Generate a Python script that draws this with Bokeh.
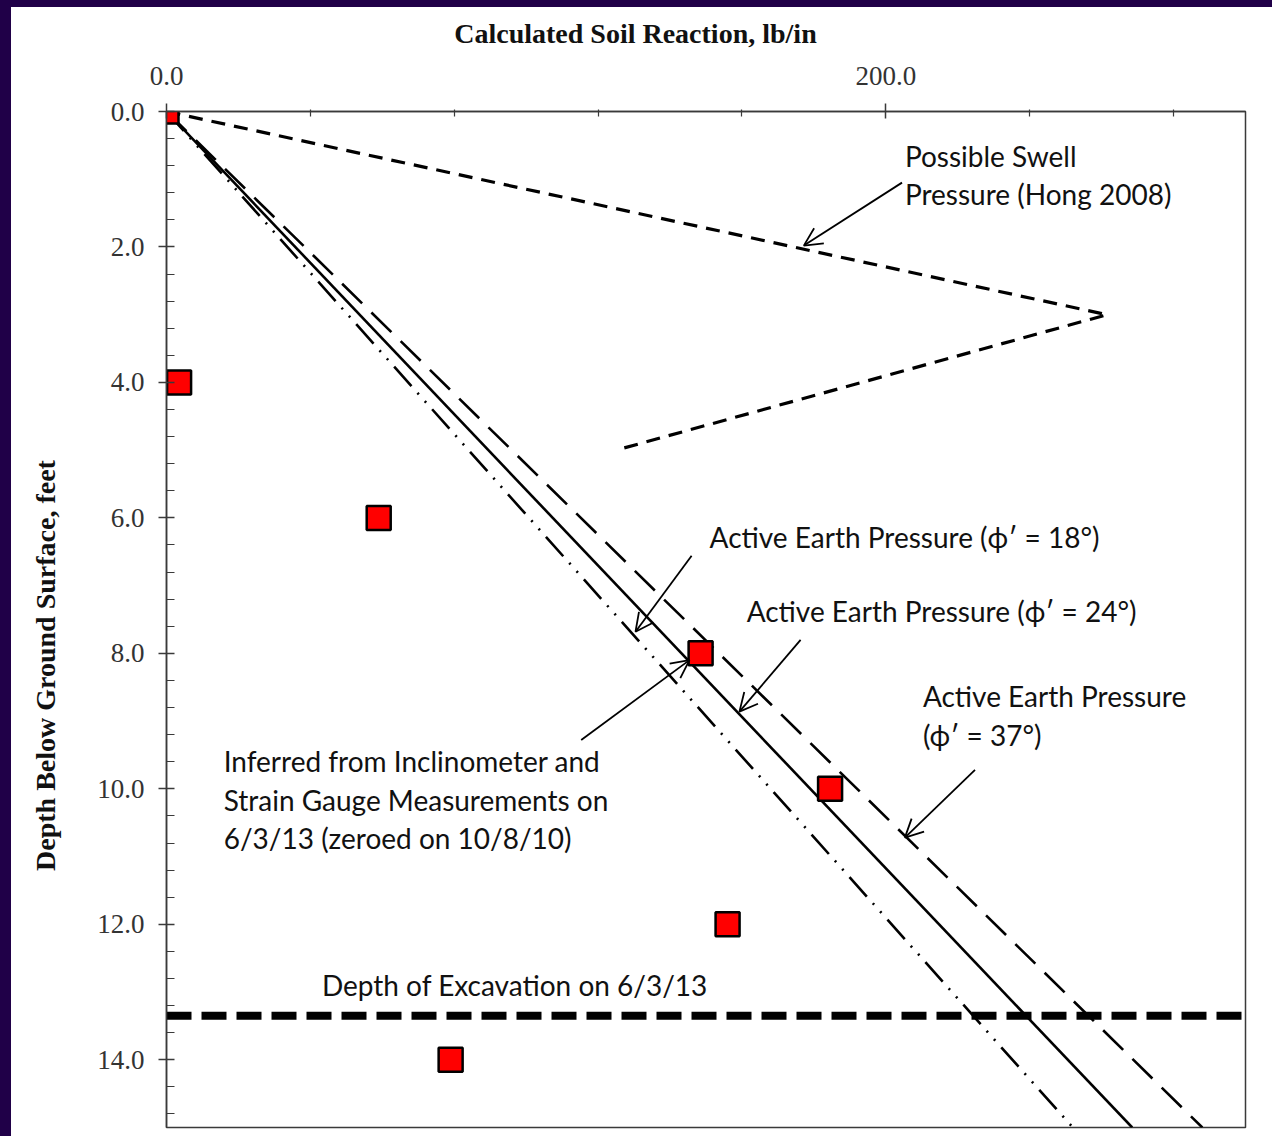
import math
from bokeh.plotting import figure
from bokeh.models import (Range1d, FixedTicker, PrintfTickFormatter, LinearAxis,
                          Label, Arrow, OpenHead, Spacer)
from bokeh.layouts import row, column
from bokeh.embed import file_html
from bokeh.resources import INLINE

# ---------------- data ----------------
measured_depth = [0, 4, 6, 8, 10, 12, 14]
measured_reaction = [0, 3.5, 59, 148.5, 184.5, 156, 79]

active_depth = [0, 15]
active_18 = [0, 252]
active_24 = [0, 268.5]
active_37 = [0, 288]

swell_depth = [0, 3, 5]
swell_reaction = [0, 261.5, 125]

excavation_depth = 13.35

x_major_ticks = [0, 200]
x_minor_ticks = [40, 80, 120, 160, 240, 280]
y_major_ticks = [0, 2, 4, 6, 8, 10, 12, 14]
y_minor_ticks = [0.4, 0.8, 1.2, 1.6, 2.4, 2.8, 3.2, 3.6, 4.4, 4.8, 5.2, 5.6,
                 6.4, 6.8, 7.2, 7.6, 8.4, 8.8, 9.2, 9.6, 10.4, 10.8, 11.2, 11.6,
                 12.4, 12.8, 13.2, 13.6, 14.4, 14.8]

x_title = "Calculated Soil Reaction, lb/in"
y_title = "Depth Below Ground Surface, feet"

# ---------------- styling ----------------
PURPLE = "#200048"
SERIF = "Liberation Serif"
SANS = "Lato"
AX = "#3a3a3a"

YW, XH = 60, 44          # sizes of the title strips
PW, PH = 1261 - YW, 1129 - XH

x_range = Range1d(0, 300)
y_range = Range1d(15, 0)


def blank_fig(w, h, xr):
    f = figure(width=w, height=h, output_backend="svg", toolbar_location=None,
               x_range=xr, y_range=Range1d(h, 0),
               x_axis_location=None, y_axis_location=None, min_border=0,
               background_fill_color="white", border_fill_color="white")
    f.grid.visible = False
    f.outline_line_color = None
    return f


# title strips (the top strip's frame lines up with the main frame -> shares x range)
xfig = blank_fig(PW, XH, x_range)
xfig.add_layout(Label(x=80, y=26, text=x_title, text_font=SERIF, text_font_style="bold",
                      text_font_size="28px", text_color="#111111",
                      text_align="left", text_baseline="middle"))
yfig = blank_fig(YW, 1129, Range1d(0, YW))
yfig.add_layout(Label(x=34, y=658, text=y_title, text_font=SERIF, text_font_style="bold",
                      text_font_size="28px", text_color="#111111", angle=math.pi / 2,
                      text_align="center", text_baseline="middle"))

# ---------------- main figure ----------------
p = figure(width=PW, height=PH, output_backend="svg", toolbar_location=None,
           x_range=x_range, y_range=y_range,
           x_axis_location=None, y_axis_location=None,
           min_border_left=95, min_border_right=27, min_border_top=60, min_border_bottom=9,
           background_fill_color="white", border_fill_color="white")
p.grid.visible = False
p.outline_line_color = AX
p.outline_line_width = 1.5

xaxis = LinearAxis(ticker=FixedTicker(ticks=x_major_ticks, minor_ticks=x_minor_ticks),
                   formatter=PrintfTickFormatter(format="%.1f"))
yaxis = LinearAxis(ticker=FixedTicker(ticks=y_major_ticks, minor_ticks=y_minor_ticks),
                   formatter=PrintfTickFormatter(format="%.1f"))
for ax in (xaxis, yaxis):
    ax.axis_line_color = AX
    ax.axis_line_width = 1.5
    ax.major_tick_line_color = AX
    ax.minor_tick_line_color = AX
    ax.major_tick_line_width = 1.5
    ax.minor_tick_line_width = 1.2
    ax.major_label_text_font = SERIF
    ax.major_label_text_font_size = "27px"
    ax.major_label_text_color = "#333333"

xaxis.major_tick_out = 8
xaxis.major_tick_in = 7
xaxis.minor_tick_out = 2
xaxis.minor_tick_in = 5
xaxis.major_label_standoff = 19

yaxis.major_tick_out = 8
yaxis.major_tick_in = 8
yaxis.minor_tick_out = 0
yaxis.minor_tick_in = 8
yaxis.major_label_standoff = 14

p.add_layout(xaxis, "above")
p.add_layout(yaxis, "left")

# ---------------- lines ----------------
p.line(swell_reaction, swell_depth, line_color="black", line_width=3.2, line_dash="14 9")
p.line(active_18, active_depth, line_color="black", line_width=2.6, line_dash="26 9 2 9 2 9")
p.line(active_24, active_depth, line_color="black", line_width=2.6)
p.line(active_37, active_depth, line_color="black", line_width=2.6, line_dash="28 13")
p.line([0, 300], [excavation_depth, excavation_depth], line_color="black", line_width=8,
       line_dash="25 10")

p.scatter(measured_reaction, measured_depth, marker="square", size=24,
          fill_color="#ff0000", line_color="black", line_width=2.5)

# ---------------- annotations ----------------
def lab(x, y, t):
    p.add_layout(Label(x=x, y=y, text=t, text_font=SANS, text_font_size="28px",
                       text_baseline="middle", text_align="left", text_color="#111111"))

lab(205.3, 0.65, "Possible Swell")
lab(205.3, 1.22, "Pressure (Hong 2008)")
lab(151.0, 6.28, "Active Earth Pressure (\u03d5\u2032 = 18\u00b0)")
lab(161.3, 7.37, "Active Earth Pressure (\u03d5\u2032 = 24\u00b0)")
lab(210.3, 8.63, "Active Earth Pressure")
lab(210.3, 9.20, "(\u03d5\u2032 = 37\u00b0)")
lab(15.9, 9.59, "Inferred from Inclinometer and")
lab(15.9, 10.16, "Strain Gauge Measurements on")
lab(15.9, 10.72, "6/3/13 (zeroed on 10/8/10)")
lab(43.2, 12.89, "Depth of Excavation on 6/3/13")

def arr(x0, y0, x1, y1):
    p.add_layout(Arrow(x_start=x0, y_start=y0, x_end=x1, y_end=y1, line_width=1.8,
                       line_color="black",
                       end=OpenHead(size=18, line_width=1.8, line_color="black")))

arr(204.5, 1.05, 177.2, 1.98)
arr(146.0, 6.56, 130.4, 7.68)
arr(176.3, 7.80, 159.3, 8.86)
arr(224.8, 9.72, 205.3, 10.72)
arr(115.3, 9.28, 145.4, 8.10)

layout = row(
    Spacer(width=11, height=1136, styles={"background-color": PURPLE}),
    column(
        Spacer(width=1261, height=7, styles={"background-color": PURPLE}),
        row(yfig, column(xfig, p)),
    ),
)

open("out.html", "w").write(file_html(layout, INLINE))
